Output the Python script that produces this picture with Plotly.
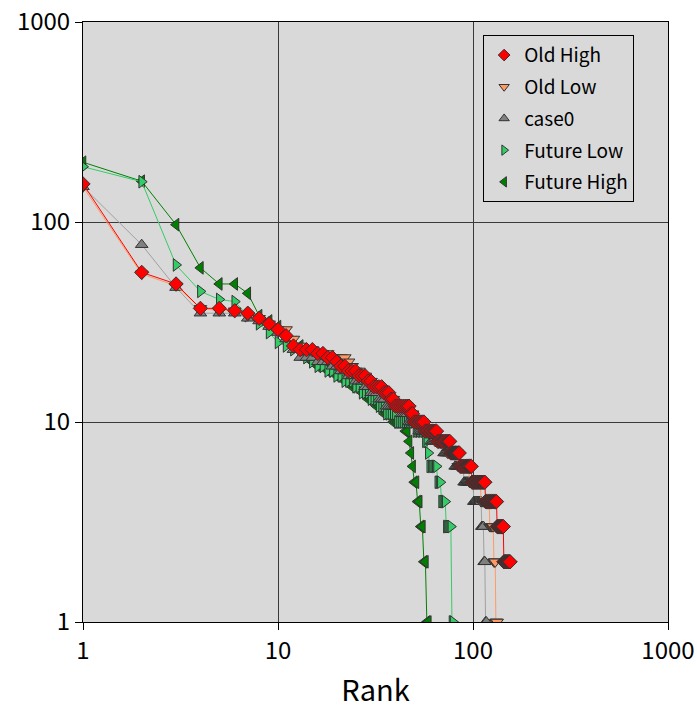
import plotly.graph_objects as go

# Rank-ordered values for each series
old_high = [155, 56, 49, 37, 37, 36, 35, 33, 31, 29,
            27, 24, 23, 23, 23, 22, 22, 21, 21, 20,
            19, 19, 18, 18, 18, 17, 17, 17, 16, 16,
            15, 15, 15, 15, 14, 14, 14, 13, 13,
            12, 12, 12, 12, 12, 12, 12, 12,
            11, 11,
            10, 10, 10, 10, 10, 10, 10,
            9, 9, 9, 9, 9, 9, 9, 9, 9,
            8, 8, 8, 8, 8, 8, 8, 8, 8, 8, 8,
            7, 7, 7, 7, 7, 7, 7, 7, 7,
            6, 6, 6, 6, 6, 6, 6, 6, 6, 6, 6, 6, 6,
            5, 5, 5, 5, 5, 5, 5, 5, 5, 5, 5, 5, 5, 5, 5, 5, 5,
            4, 4, 4, 4, 4, 4, 4, 4, 4, 4, 4, 4, 4, 4, 4, 4, 4,
            3, 3, 3, 3, 3, 3, 3, 3, 3, 3, 3,
            2, 2, 2, 2, 2, 2, 2, 2, 2, 2, 2, 2]

old_low = [150, 55, 48, 37, 36, 36, 34, 33, 31, 29,
           29, 26, 24, 23, 23, 22, 22, 22, 21, 21,
           21, 21, 20, 19, 18, 18, 17, 17, 16, 16,
           15, 15, 15, 14, 14, 14, 13, 13, 13,
           12, 12, 12, 12, 12, 12, 12,
           11, 11, 11,
           10, 10, 10, 10, 10, 10,
           9, 9, 9, 9, 9, 9, 9, 9,
           8, 8, 8, 8, 8, 8, 8, 8, 8, 8,
           7, 7, 7, 7, 7, 7, 7, 7, 7, 7,
           6, 6, 6, 6, 6, 6, 6, 6, 6, 6, 6, 6,
           5, 5, 5, 5, 5, 5, 5, 5, 5, 5, 5, 5, 5, 5,
           4, 4, 4, 4, 4, 4, 4, 4, 4, 4, 4, 4,
           3, 3, 3, 3, 3, 3,
           2, 2, 2,
           1, 1, 1]

case0 = [150, 77, 47, 35, 35, 35, 33, 32, 30, 28,
         26, 23, 21, 21, 21, 20, 20, 20, 19, 19,
         18, 18, 17, 17, 16, 16, 16, 15, 15, 14,
         14, 14, 13, 13, 13,
         12, 12, 12, 12, 12, 12, 12,
         11, 11, 11, 11,
         10, 10, 10, 10, 10, 10,
         9, 9, 9, 9, 9, 9, 9, 9,
         8, 8, 8, 8, 8, 8, 8, 8, 8, 8,
         7, 7, 7, 7, 7, 7, 7, 7, 7, 7,
         6, 6, 6, 6, 6, 6, 6, 6, 6,
         5, 5, 5, 5, 5, 5, 5, 5, 5, 5, 5,
         4, 4, 4, 4, 4, 4, 4, 4, 4, 4,
         3, 3, 3,
         2, 2,
         1, 1]

future_low = [189, 159, 61, 45, 41, 40, 34, 31, 28, 25,
              24, 23, 22, 21, 20, 19, 19, 18, 18, 17,
              17, 16, 16, 16, 15, 15, 14, 14, 14, 13,
              13, 13, 12, 12, 12,
              11, 11, 11, 11, 11,
              10, 10, 10, 10, 10, 10, 10, 10, 10, 10,
              9, 9, 9, 9, 9, 9,
              8, 8,
              7,
              6, 6, 6, 6, 6, 6,
              5, 5, 5,
              4, 4, 4, 4,
              3, 3, 3, 3, 3,
              1, 1]

future_high = [199, 160, 97, 59, 49, 49, 44, 34, 32, 30,
               27, 25, 24, 21, 20, 19, 19, 18, 18, 17,
               17, 16, 16, 15, 15, 15, 14, 14, 13, 13,
               13, 12, 12, 12, 11, 11, 11, 11,
               10, 10, 10, 10, 10, 10,
               9, 9,
               8,
               7,
               6,
               5, 5,
               4, 4,
               3, 3,
               2, 2,
               1, 1]

series_names = ["Old High", "Old Low", "case0", "Future Low", "Future High"]
series_values = [old_high, old_low, case0, future_low, future_high]
marker_colors = ["#FF0000", "#FF9966", "#808080", "#33CC66", "#008000"]
line_colors = ["#FF0000", "#FF9966", "#A0A0A0", "#33CC66", "#008000"]
symbols = ["diamond", "triangle-down", "triangle-up", "triangle-right", "triangle-left"]
sizes = [11, 11, 11, 11, 11]

x_ticks = [1, 10, 100, 1000]
y_ticks = [1, 10, 100, 1000]

fig = go.Figure()

# draw order: Future High first, Old High last (on top)
for i in reversed(range(len(series_names))):
    vals = series_values[i]
    ranks = list(range(1, len(vals) + 1))
    fig.add_trace(go.Scatter(
        x=ranks, y=vals, mode="lines+markers", name=series_names[i],
        showlegend=False,
        line=dict(color=line_colors[i], width=1),
        marker=dict(symbol=symbols[i], size=sizes[i], color=marker_colors[i],
                    line=dict(color="#333333", width=1)),
    ))

# legend entries (markers only)
for i in range(len(series_names)):
    fig.add_trace(go.Scatter(
        x=[None], y=[None], mode="markers", name=series_names[i],
        legendgroup=series_names[i], legendrank=i + 1,
        marker=dict(symbol=symbols[i], size=9, color=marker_colors[i],
                    line=dict(color="#333333", width=1)),
    ))

font_family = "Noto Sans CJK JP, DejaVu Sans, sans-serif"

fig.update_layout(
    width=697, height=709,
    margin=dict(l=83, r=29, t=22, b=87),
    paper_bgcolor="white",
    plot_bgcolor="#D9D9D9",
    font=dict(family=font_family, color="black", size=22),
    legend=dict(
        x=0.684, y=0.978, xanchor="left", yanchor="top",
        bgcolor="#D9D9D9", bordercolor="#000000", borderwidth=1,
        font=dict(size=19, family=font_family),
        traceorder="grouped", tracegroupgap=4,
        itemwidth=30,
    ),
)

fig.update_xaxes(
    type="log", range=[0, 3], automargin=False,
    tickvals=x_ticks, ticktext=[str(v) for v in x_ticks],
    showgrid=True, gridcolor="#3a3a3a", gridwidth=1,
    showline=True, linecolor="black", linewidth=1, mirror=True,
    ticks="outside", ticklen=7, tickcolor="black",
    tickfont=dict(size=24),
    title=dict(text="Rank", font=dict(size=29), standoff=18),
    zeroline=False,
)
fig.update_yaxes(
    type="log", range=[0, 3], automargin=False,
    tickvals=y_ticks, ticktext=[str(v) for v in y_ticks],
    showgrid=True, gridcolor="#3a3a3a", gridwidth=1,
    showline=True, linecolor="black", linewidth=1, mirror=True,
    ticks="outside", ticklen=7, tickcolor="black",
    tickfont=dict(size=24),
    zeroline=False,
)

fig.write_html("out.html", config={"displayModeBar": False},
               post_script="document.body.style.margin='0';")
